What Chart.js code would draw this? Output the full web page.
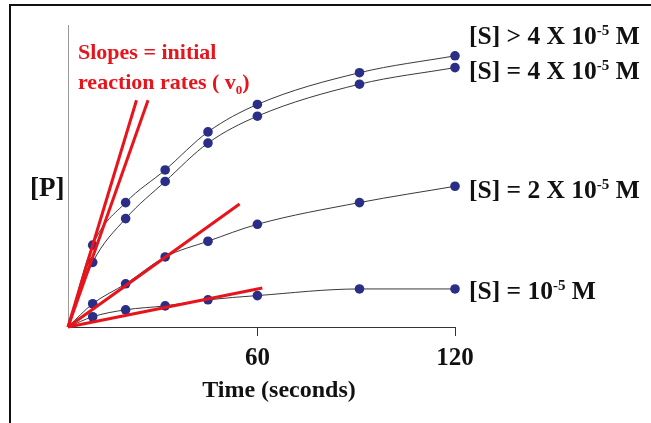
<!DOCTYPE html>
<html>
<head>
<meta charset="utf-8">
<script src="https://cdn.jsdelivr.net/npm/chart.js@4/dist/chart.umd.min.js"></script>
<style>
html,body{margin:0;padding:0;background:#fff;}
#wrap{position:relative;width:651px;height:423px;}
</style>
</head>
<body>
<div id="wrap"><canvas id="c" width="651" height="423"></canvas></div>
<script>
// ---- data ----
const timeStart = 2.5;                       // where the axes meet
const times = [10, 20, 32, 45, 60, 91, 120]; // seconds
const sAbove4 = [27.1, 41.2, 52.0, 64.6, 73.7, 84.2, 89.8];
const s4 = [21.4, 35.9, 48.2, 60.9, 69.8, 80.4, 85.9];
const s2 = [7.7, 14.3, 23.2, 28.4, 34.0, 41.2, 46.6];
const s1 = [3.4, 5.7, 7.0, 9.0, 10.4, 12.6, 12.6];
const slopeEndX = [23.3, 26.8, 54.6, 61.5];
const slopeEndY = [75.1, 75.1, 40.7, 12.9];
const xTicks = [60, 120];
const seriesLabels = [
  ['[S] > 4 X 10', '-5', ' M'],
  ['[S] = 4 X 10', '-5', ' M'],
  ['[S] = 2 X 10', '-5', ' M'],
  ['[S] = 10', '-5', ' M']
];
const slopeText1 = 'Slopes = initial';
const slopeText2 = ['reaction rates ( v', '0', ')'];
const yTitle = '[P]';
const xTitle = 'Time (seconds)';

const SERIF = '"Liberation Serif", "Times New Roman", serif';
const NAVY = '#2a2e86';
const RED = '#e8141c';

function curve(vals) {
  return [{x: timeStart, y: 0}].concat(times.map((t, i) => ({x: t, y: vals[i]})));
}
function curveDs(vals) {
  return {
    data: curve(vals),
    borderColor: '#3a3a3a',
    borderWidth: 1,
    cubicInterpolationMode: 'monotone',
    clip: false,
    pointRadius: c => c.dataIndex === 0 ? 0 : 4.8,
    pointBackgroundColor: NAVY,
    pointBorderColor: NAVY,
    pointBorderWidth: 0,
    order: 2
  };
}
function slopeDs(i) {
  return {
    data: [{x: timeStart, y: 0}, {x: slopeEndX[i], y: slopeEndY[i]}],
    borderColor: RED,
    borderWidth: 3,
    pointRadius: 0,
    clip: false,
    order: 1
  };
}

function drawParts(ctx, parts, x, y, size, supSize, supShift, color) {
  ctx.fillStyle = color;
  ctx.textBaseline = 'alphabetic';
  ctx.textAlign = 'left';
  let cx = x;
  parts.forEach((p, i) => {
    const isSup = i === 1;
    ctx.font = 'bold ' + (isSup ? supSize : size) + 'px ' + SERIF;
    ctx.fillText(p, cx, isSup ? y + supShift : y);
    cx += ctx.measureText(p).width;
  });
}

const decor = {
  id: 'decor',
  beforeDraw(chart) {
    const ctx = chart.ctx;
    ctx.save();
    ctx.fillStyle = '#fff';
    ctx.fillRect(0, 0, chart.width, chart.height);
    ctx.strokeStyle = '#111';
    ctx.lineWidth = 2;
    ctx.strokeRect(10, 5, 800, 600);
    ctx.restore();
  },
  afterDraw(chart) {
    const ctx = chart.ctx;
    const xs = chart.scales.x, ys = chart.scales.y;
    ctx.save();
    // series labels, placed beside the last point of each curve
    const lastVals = [sAbove4, s4, s2, s1].map(a => a[a.length - 1]);
    const offs = [-12, 11, 12, 10];
    const lx = xs.getPixelForValue(times[times.length - 1]) + 14;
    seriesLabels.forEach((parts, i) => {
      const y = ys.getPixelForValue(lastVals[i]) + offs[i];
      drawParts(ctx, parts, lx, y, 25.5, 15, -9, '#111');
    });
    // red annotation
    ctx.fillStyle = RED;
    ctx.font = 'bold 22px ' + SERIF;
    ctx.fillText(slopeText1, 78, 59);
    drawParts(ctx, slopeText2, 78, 89, 22, 13, 5, RED);
    // y title
    ctx.fillStyle = '#111';
    ctx.font = 'bold 27px ' + SERIF;
    ctx.textAlign = 'left';
    ctx.fillText(yTitle, 30, 196);
    // x title
    ctx.font = 'bold 24px ' + SERIF;
    ctx.textAlign = 'center';
    ctx.fillText(xTitle, 279, 397);
    ctx.restore();
  }
};

new Chart(document.getElementById('c'), {
  type: 'line',
  data: {
    datasets: [
      curveDs(sAbove4), curveDs(s4), curveDs(s2), curveDs(s1),
      slopeDs(0), slopeDs(1), slopeDs(2), slopeDs(3)
    ]
  },
  options: {
    responsive: false,
    animation: false,
    devicePixelRatio: 1,
    layout: {padding: {left: 68, top: 25, right: 196, bottom: 0}},
    plugins: {legend: {display: false}, tooltip: {enabled: false}},
    elements: {line: {fill: false}},
    scales: {
      x: {
        type: 'linear',
        min: timeStart,
        max: 120,
        afterBuildTicks: s => { s.ticks = xTicks.map(v => ({value: v})); },
        afterFit: s => { s.height = 96; },
        grid: {drawOnChartArea: false, drawTicks: true, tickLength: 9, color: '#333', lineWidth: 1},
        border: {display: true, color: '#333', width: 1},
        ticks: {
          color: '#111',
          padding: 8,
          maxRotation: 0,
          autoSkip: false,
          font: {family: SERIF, weight: 'bold', size: 25}
        }
      },
      y: {
        type: 'linear',
        min: 0,
        max: 100,
        afterFit: s => { s.width = 0; },
        grid: {display: false},
        border: {display: true, color: '#999', width: 1},
        ticks: {display: false}
      }
    }
  },
  plugins: [decor]
});
</script>
</body>
</html>
